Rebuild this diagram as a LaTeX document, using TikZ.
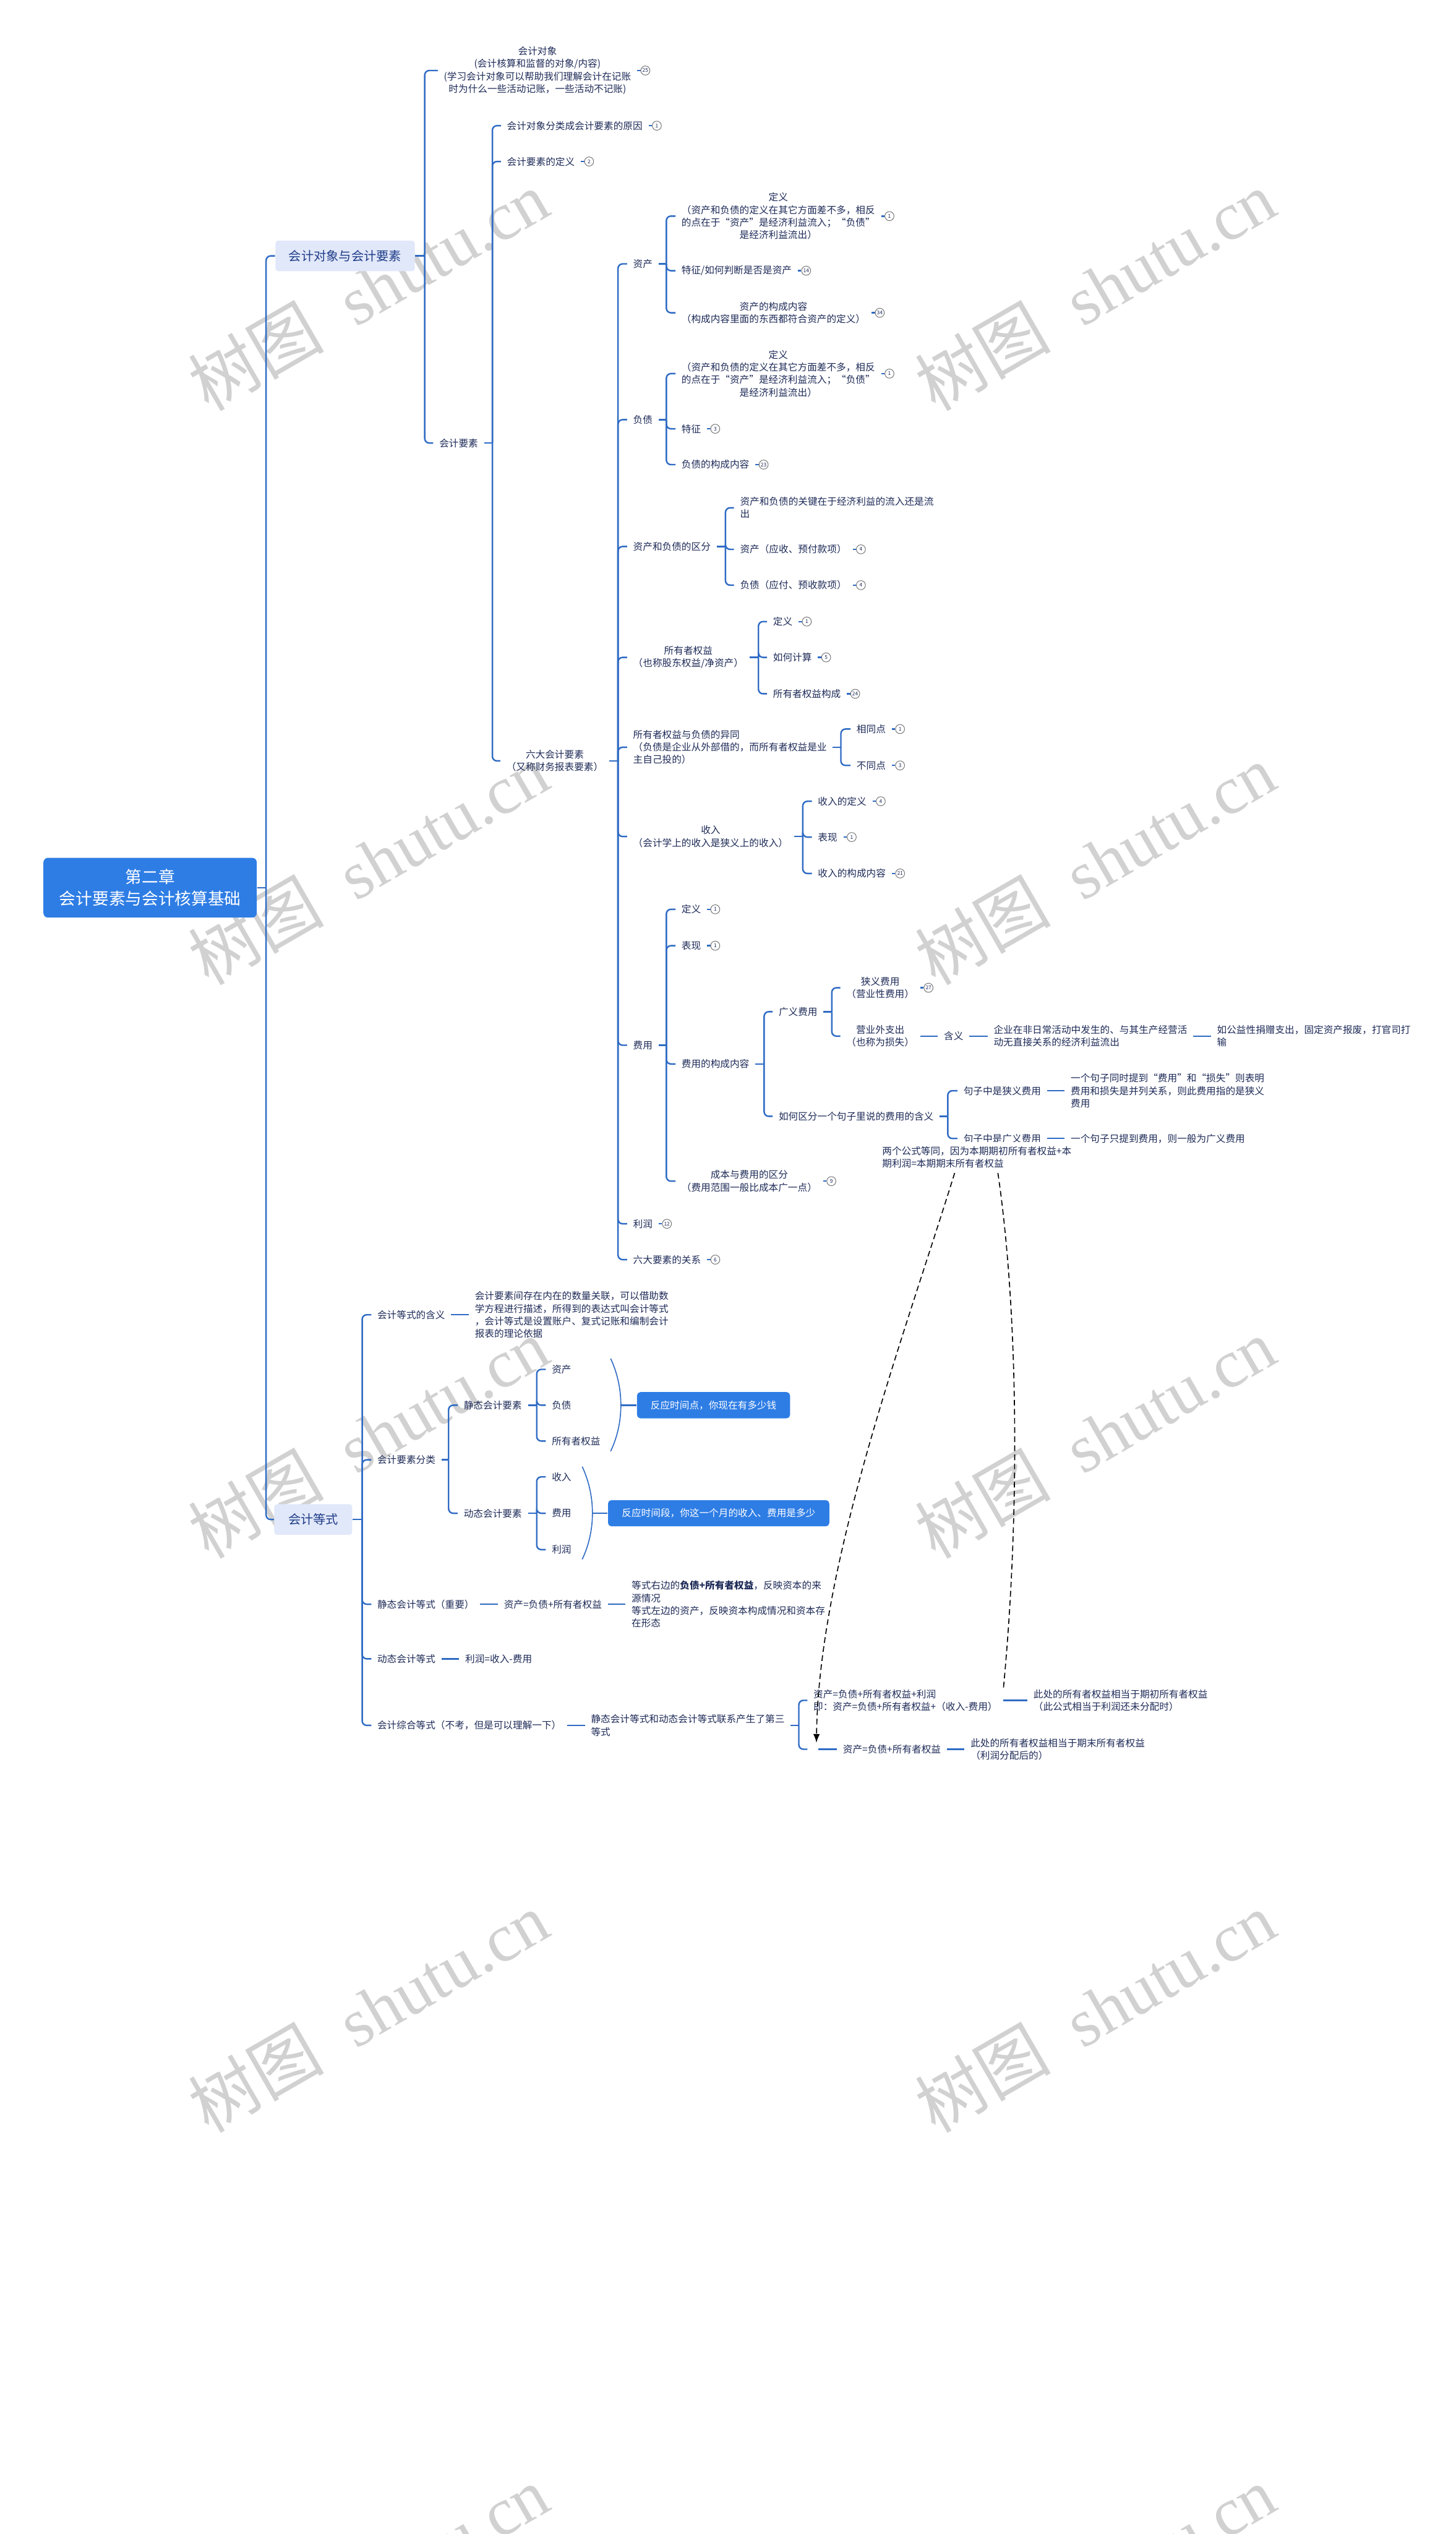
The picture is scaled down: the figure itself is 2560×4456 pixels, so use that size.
\documentclass[tikz,border=0pt]{standalone}
\usepackage{fontspec}
\setmainfont{Noto Sans CJK SC}
\newfontfamily\wmfont{Liberation Serif}
\usetikzlibrary{positioning}
\definecolor{linec}{HTML}{2F6BC4}
\definecolor{inkc}{HTML}{1E2B58}
\definecolor{rootc}{HTML}{2E7DE5}
\definecolor{topicbg}{HTML}{E1E8FA}
\definecolor{topicink}{HTML}{1F3C88}
% collapsed branch: short stub and a circled count
\newcommand{\foldcount}[2]{%
  \draw[branch] (#1.east) -- ++(6,0) node[foldmark, anchor=west] {#2};}

\begin{document}
\begin{tikzpicture}[x=0.01cm, y=-0.01cm, >=latex,
    branch/.style={draw=linec, line width=0.75pt, rounded corners=0.08cm},
    brace/.style={draw=linec, line width=0.5pt},
    rel/.style={draw=black, line width=0.5pt, dash pattern=on 0.1cm off 0.06cm},
    item/.style={anchor=west, text=inkc, inner xsep=0.1cm, inner ysep=0.03cm,
      font=\fontsize{4.84}{6.26}\selectfont},
    rootbox/.style={fill=rootc, text=white, rounded corners=0.08cm, align=center,
      minimum width=3.75cm, minimum height=1.05cm, font=\fontsize{8.25}{10.8}\selectfont},
    topic/.style={fill=topicbg, text=topicink, rounded corners=0.05cm,
      minimum height=0.54cm, font=\fontsize{6.26}{7.5}\selectfont},
    notebox/.style={fill=rootc, text=white, rounded corners=0.06cm,
      minimum height=0.46cm, font=\fontsize{4.84}{6.26}\selectfont},
    foldmark/.style={circle, draw=black!55, line width=0.3pt, fill=white, inner sep=0pt,
      minimum size=0.16cm, text=inkc, font=\fontsize{2.6}{2.6}\selectfont},
    watermark/.style={rotate=30, text=black!18, font=\fontsize{34}{34}\selectfont}]
  \useasboundingbox (0,0) rectangle (2560,4456);
  \fill[white] (0,0) rectangle (2560,4456);
  % watermarks behind everything
  \foreach \wx in {648,1926} {
    \foreach \wy in {511,1520,2529,3538,4547} {
      \node[watermark] at (\wx,\wy) {树图\hspace{0.5em}{\wmfont shutu.cn}};
    }
  }

  % root and main topics
  \node[rootbox] (root) at (264,1561) {第二章\\会计要素与会计核算基础};
  \node[topic, minimum width=2.45cm] (dx) at (607,450) {会计对象与会计要素};
  \node[topic, minimum width=1.37cm] (dengshi) at (551,2672) {会计等式};
  \draw[branch] (root.east) -- (468,1561) coordinate (j0);
  \foreach \kid in {dx,dengshi} \draw[branch] (j0) |- (\kid.west);

  % ---- 会计对象与会计要素
  \node[item, align=center] (duixiang) at (770,124)
    {会计对象\\(会计核算和监督的对象/内容)\\(学习会计对象可以帮助我们理解会计在记账\\时为什么一些活动记账，一些活动不记账)};
  \foldcount{duixiang}{25}
  \node[item] (yaosu) at (762,779) {会计要素};
  \draw[branch] (dx.east) -- (747,450) coordinate (j1);
  \foreach \kid in {duixiang,yaosu} \draw[branch] (j1) |- (\kid.west);

  \node[item] (yuanyin) at (881,221) {会计对象分类成会计要素的原因};
  \foldcount{yuanyin}{1}
  \node[item] (ysdy) at (881,284) {会计要素的定义};
  \foldcount{ysdy}{2}
  \node[item, align=center] (liuda) at (880,1338) {六大会计要素\\（又称财务报表要素）};
  \draw[branch] (yaosu.east) -- (866,779) coordinate (j2);
  \foreach \kid in {yuanyin,ysdy,liuda} \draw[branch] (j2) |- (\kid.west);

  % six elements
  \node[item] (zichan) at (1103,464) {资产};
  \node[item] (fuzhai) at (1103,738) {负债};
  \node[item] (qufen) at (1103,961) {资产和负债的区分};
  \node[item, align=center] (quanyi) at (1103,1156) {所有者权益\\（也称股东权益/净资产）};
  \node[item, align=left] (yitong) at (1103,1314)
    {所有者权益与负债的异同\\（负债是企业从外部借的，而所有者权益是业\\主自己投的）};
  \node[item, align=center] (shouru) at (1103,1471) {收入\\（会计学上的收入是狭义上的收入）};
  \node[item] (feiyong) at (1103,1838) {费用};
  \node[item] (lirun) at (1103,2152) {利润};
  \foldcount{lirun}{12}
  \node[item] (guanxi) at (1103,2215) {六大要素的关系};
  \foldcount{guanxi}{6}
  \draw[branch] (liuda.east) -- (1087,1338) coordinate (j3);
  \foreach \kid in {zichan,fuzhai,qufen,quanyi,yitong,shouru,feiyong,lirun,guanxi}
    \draw[branch] (j3) |- (\kid.west);

  % 资产
  \node[item, align=center] (zcdy) at (1188,380)
    {定义\\（资产和负债的定义在其它方面差不多，相反\\的点在于“资产”是经济利益流入；“负债”\\是经济利益流出）};
  \foldcount{zcdy}{1}
  \node[item] (zctz) at (1188,476) {特征/如何判断是否是资产};
  \foldcount{zctz}{14}
  \node[item, align=center] (zcgc) at (1188,550) {资产的构成内容\\（构成内容里面的东西都符合资产的定义）};
  \foldcount{zcgc}{34}
  \draw[branch] (zichan.east) -- (1172,464) coordinate (j4);
  \foreach \kid in {zcdy,zctz,zcgc} \draw[branch] (j4) |- (\kid.west);

  % 负债
  \node[item, align=center] (fzdy) at (1188,657)
    {定义\\（资产和负债的定义在其它方面差不多，相反\\的点在于“资产”是经济利益流入；“负债”\\是经济利益流出）};
  \foldcount{fzdy}{1}
  \node[item] (fztz) at (1188,754) {特征};
  \foldcount{fztz}{3}
  \node[item] (fzgc) at (1188,817) {负债的构成内容};
  \foldcount{fzgc}{23}
  \draw[branch] (fuzhai.east) -- (1172,738) coordinate (j5);
  \foreach \kid in {fzdy,fztz,fzgc} \draw[branch] (j5) |- (\kid.west);

  % 资产和负债的区分
  \node[item, align=left] (qf1) at (1291,893) {资产和负债的关键在于经济利益的流入还是流\\出};
  \node[item] (qf2) at (1291,966) {资产（应收、预付款项）};
  \foldcount{qf2}{4}
  \node[item] (qf3) at (1291,1029) {负债（应付、预收款项）};
  \foldcount{qf3}{4}
  \draw[branch] (qufen.east) -- (1276,961) coordinate (j6);
  \foreach \kid in {qf1,qf2,qf3} \draw[branch] (j6) |- (\kid.west);

  % 所有者权益
  \node[item] (qy1) at (1349,1093) {定义};
  \foldcount{qy1}{1}
  \node[item] (qy2) at (1349,1156) {如何计算};
  \foldcount{qy2}{5}
  \node[item] (qy3) at (1349,1220) {所有者权益构成};
  \foldcount{qy3}{24}
  \draw[branch] (quanyi.east) -- (1334,1156) coordinate (j7);
  \foreach \kid in {qy1,qy2,qy3} \draw[branch] (j7) |- (\kid.west);

  % 异同
  \node[item] (yt1) at (1496,1282) {相同点};
  \foldcount{yt1}{1}
  \node[item] (yt2) at (1496,1346) {不同点};
  \foldcount{yt2}{3}
  \draw[branch] (yitong.east) -- (1479,1314) coordinate (j8);
  \foreach \kid in {yt1,yt2} \draw[branch] (j8) |- (\kid.west);

  % 收入
  \node[item] (sr1) at (1428,1409) {收入的定义};
  \foldcount{sr1}{4}
  \node[item] (sr2) at (1428,1472) {表现};
  \foldcount{sr2}{1}
  \node[item] (sr3) at (1428,1536) {收入的构成内容};
  \foldcount{sr3}{21}
  \draw[branch] (shouru.east) -- (1412,1471) coordinate (j9);
  \foreach \kid in {sr1,sr2,sr3} \draw[branch] (j9) |- (\kid.west);

  % 费用
  \node[item] (fy1) at (1188,1599) {定义};
  \foldcount{fy1}{1}
  \node[item] (fy2) at (1188,1663) {表现};
  \foldcount{fy2}{1}
  \node[item] (fygc) at (1188,1871) {费用的构成内容};
  \node[item, align=center] (fycb) at (1188,2077) {成本与费用的区分\\（费用范围一般比成本广一点）};
  \foldcount{fycb}{9}
  \draw[branch] (feiyong.east) -- (1172,1838) coordinate (j10);
  \foreach \kid in {fy1,fy2,fygc,fycb} \draw[branch] (j10) |- (\kid.west);

  \node[item] (guangyi) at (1359,1779) {广义费用};
  \node[item] (qufenju) at (1359,1963) {如何区分一个句子里说的费用的含义};
  \draw[branch] (fygc.east) -- (1344,1871) coordinate (j11);
  \foreach \kid in {guangyi,qufenju} \draw[branch] (j11) |- (\kid.west);

  \node[item, align=center] (xiayi) at (1478,1737) {狭义费用\\（营业性费用）};
  \foldcount{xiayi}{27}
  \node[item, align=center] (yingye) at (1478,1822) {营业外支出\\（也称为损失）};
  \draw[branch] (guangyi.east) -- (1463,1779) coordinate (j12);
  \foreach \kid in {xiayi,yingye} \draw[branch] (j12) |- (\kid.west);
  \node[item, right=0.31cm of yingye] (hanyi) {含义};
  \node[item, align=left, right=0.32cm of hanyi] (hanyit)
    {企业在非日常活动中发生的、与其生产经营活\\动无直接关系的经济利益流出};
  \node[item, align=left, right=0.31cm of hanyit] (lizi)
    {如公益性捐赠支出，固定资产报废，打官司打\\输};
  \draw[branch] (yingye.east) -- (hanyi.west);
  \draw[branch] (hanyi.east) -- (hanyit.west);
  \draw[branch] (hanyit.east) -- (lizi.west);

  \node[item] (jxfy) at (1684,1918) {句子中是狭义费用};
  \node[item] (gyfy) at (1684,2002) {句子中是广义费用};
  \draw[branch] (qufenju.east) -- (1667,1963) coordinate (j13);
  \foreach \kid in {jxfy,gyfy} \draw[branch] (j13) |- (\kid.west);
  \node[item, align=left, right=0.31cm of jxfy] (jxt)
    {一个句子同时提到“费用”和“损失”则表明\\费用和损失是并列关系，则此费用指的是狭义\\费用};
  \node[item, right=0.31cm of gyfy] (gyt) {一个句子只提到费用，则一般为广义费用};
  \draw[branch] (jxfy.east) -- (jxt.west);
  \draw[branch] (gyfy.east) -- (gyt.west);

  % ---- 会计等式
  \node[item] (hanyi2) at (653,2312) {会计等式的含义};
  \node[item, align=left, right=0.31cm of hanyi2] (hanyi2t)
    {会计要素间存在内在的数量关联，可以借助数\\学方程进行描述，所得到的表达式叫会计等式\\，会计等式是设置账户、复式记账和编制会计\\报表的理论依据};
  \node[item] (fenlei) at (653,2567) {会计要素分类};
  \node[item] (jtdeng) at (653,2821) {静态会计等式（重要）};
  \node[item, right=0.31cm of jtdeng] (jfm) {资产=负债+所有者权益};
  \node[item, align=left, right=0.31cm of jfm] (jfmt)
    {等式右边的\textbf{负债+所有者权益}，反映资本的来\\源情况\\等式左边的资产，反映资本构成情况和资本存\\在形态};
  \node[item] (dtdeng) at (653,2917) {动态会计等式};
  \node[item, right=0.31cm of dtdeng] (dfm) {利润=收入-费用};
  \node[item] (zonghe) at (653,3034) {会计综合等式（不考，但是可以理解一下）};
  \node[item, align=left, right=0.31cm of zonghe] (zht)
    {静态会计等式和动态会计等式联系产生了第三\\等式};
  \draw[branch] (dengshi.east) -- (637,2672) coordinate (k0);
  \foreach \kid in {hanyi2,fenlei,jtdeng,dtdeng,zonghe} \draw[branch] (k0) |- (\kid.west);
  \draw[branch] (hanyi2.east) -- (hanyi2t.west);
  \draw[branch] (jtdeng.east) -- (jfm.west);
  \draw[branch] (jfm.east) -- (jfmt.west);
  \draw[branch] (dtdeng.east) -- (dfm.west);
  \draw[branch] (zonghe.east) -- (zht.west);

  % 会计要素分类
  \node[item] (jingtai) at (805,2471) {静态会计要素};
  \node[item] (dongtai) at (805,2661) {动态会计要素};
  \draw[branch] (fenlei.east) -- (789,2567) coordinate (k1);
  \foreach \kid in {jingtai,dongtai} \draw[branch] (k1) |- (\kid.west);
  \node[item] (jt1) at (960,2408) {资产};
  \node[item] (jt2) at (960,2471) {负债};
  \node[item] (jt3) at (960,2534) {所有者权益};
  \draw[branch] (jingtai.east) -- (944,2471) coordinate (k2);
  \foreach \kid in {jt1,jt2,jt3} \draw[branch] (k2) |- (\kid.west);
  \node[item] (dt1) at (960,2597) {收入};
  \node[item] (dt2) at (960,2661) {费用};
  \node[item] (dt3) at (960,2725) {利润};
  \draw[branch] (dongtai.east) -- (944,2661) coordinate (k3);
  \foreach \kid in {dt1,dt2,dt3} \draw[branch] (k3) |- (\kid.west);
  % summary braces
  \draw[brace] (1074,2389) .. controls (1098,2440) and (1098,2502) .. (1074,2552);
  \coordinate (jtsum) at (1092,2471);
  \node[notebox, minimum width=2.69cm] (jtbox) at (1255,2471) {反应时间点，你现在有多少钱};
  \draw[branch] (jtsum) -- (jtbox.west);
  \draw[brace] (1024,2579) .. controls (1048,2630) and (1048,2692) .. (1024,2742);
  \coordinate (dtsum) at (1042,2661);
  \node[notebox, minimum width=3.89cm] (dtbox) at (1264,2661) {反应时间段，你这一个月的收入、费用是多少};
  \draw[branch] (dtsum) -- (dtbox.west);

  % 第三等式
  \node[item, align=left] (zhA) at (1420,2990)
    {资产=负债+所有者权益+利润\\即：资产=负债+所有者权益+（收入-费用）};
  \node[item, align=left, right=0.42cm of zhA] (zhA2)
    {此处的所有者权益相当于期初所有者权益\\（此公式相当于利润还未分配时）};
  \node[item] (zhB) at (1472,3076) {资产=负债+所有者权益};
  \node[item, align=left, right=0.31cm of zhB] (zhB2)
    {此处的所有者权益相当于期末所有者权益\\（利润分配后的）};
  \draw[branch] (zht.east) -- (1405,3034) coordinate (k4);
  \coordinate (kb) at (1420,3076);
  \draw[branch] (k4) |- (zhA.west);
  \draw[branch] (k4) |- (kb);
  \draw[branch] ([xshift=-0.33cm]zhB.west) -- (zhB.west);
  \draw[branch] (zhA.east) -- (zhA2.west);
  \draw[branch] (zhB.east) -- (zhB2.west);

  % relation between the two equations
  \node[item, align=left, fill=white, inner ysep=0.08cm] (eqnote) at (1541,2035)
    {两个公式等同，因为本期期初所有者权益+本\\期利润=本期期末所有者权益};
  \draw[rel] (zhA.north east) .. controls (1795,2650) and (1790,2300) .. ([xshift=0.37cm]eqnote.south);
  \draw[rel, ->] ([xshift=-0.39cm]eqnote.south) .. controls (1590,2350) and (1440,2750)
    .. ([xshift=-0.36cm]zhB.north west);
\end{tikzpicture}
\end{document}
